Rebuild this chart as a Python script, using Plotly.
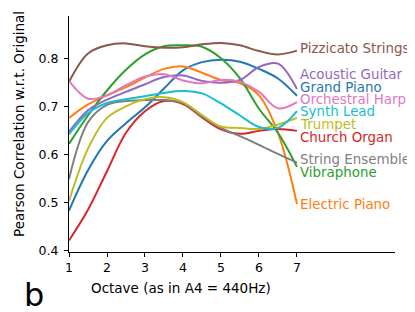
import plotly.graph_objects as go

octaves = [1, 1.5, 2, 2.5, 3, 3.5, 4, 4.5, 5, 5.5, 6, 6.5, 7]

pizzicato_strings = [0.751, 0.810, 0.827, 0.831, 0.825, 0.822, 0.823, 0.829, 0.832, 0.827, 0.815, 0.808, 0.816]
acoustic_guitar = [0.647, 0.692, 0.714, 0.730, 0.746, 0.761, 0.764, 0.753, 0.749, 0.755, 0.782, 0.789, 0.736]
grand_piano = [0.483, 0.567, 0.628, 0.665, 0.698, 0.737, 0.775, 0.792, 0.797, 0.793, 0.778, 0.758, 0.722]
orchestral_harp = [0.753, 0.716, 0.723, 0.744, 0.762, 0.767, 0.754, 0.748, 0.755, 0.751, 0.730, 0.696, 0.709]
synth_lead = [0.642, 0.686, 0.707, 0.715, 0.721, 0.728, 0.732, 0.727, 0.706, 0.681, 0.657, 0.655, 0.690]
trumpet = [0.503, 0.612, 0.676, 0.700, 0.715, 0.719, 0.709, 0.682, 0.658, 0.655, 0.653, 0.662, 0.676]
church_organ = [0.421, 0.485, 0.565, 0.645, 0.690, 0.711, 0.705, 0.677, 0.652, 0.643, 0.649, 0.653, 0.649]
string_ensemble = [0.549, 0.667, 0.703, 0.711, 0.713, 0.713, 0.707, 0.679, 0.655, 0.638, 0.620, 0.601, 0.583]
vibraphone = [0.622, 0.681, 0.733, 0.776, 0.808, 0.825, 0.827, 0.824, 0.800, 0.758, 0.695, 0.645, 0.574]
electric_piano = [0.676, 0.704, 0.723, 0.740, 0.760, 0.778, 0.783, 0.770, 0.755, 0.748, 0.723, 0.645, 0.497]

names = ["Pizzicato Strings", "Acoustic Guitar", "Grand Piano", "Orchestral Harp", "Synth Lead",
         "Trumpet", "Church Organ", "String Ensemble", "Vibraphone", "Electric Piano"]
series = [pizzicato_strings, acoustic_guitar, grand_piano, orchestral_harp, synth_lead,
          trumpet, church_organ, string_ensemble, vibraphone, electric_piano]
colors = ["#8c564b", "#9467bd", "#1f77b4", "#e377c2", "#17becf",
          "#bcbd22", "#d62728", "#7f7f7f", "#2ca02c", "#ff7f0e"]
# label placement (data y) after de-overlapping, as in the reference
label_y = [0.821, 0.7654, 0.739, 0.7148, 0.689, 0.6613, 0.635, 0.590, 0.562, 0.495]

x_ticks = [1, 2, 3, 4, 5, 6, 7]
y_ticks = [0.4, 0.5, 0.6, 0.7, 0.8]

FONT = "DejaVu Sans"

fig = go.Figure()
# draw order: later lines on top
order = [2, 9, 8, 6, 1, 0, 3, 7, 5, 4]
for i in order:
    fig.add_trace(go.Scatter(x=octaves, y=series[i], mode="lines", name=names[i],
                             line=dict(color=colors[i], width=2, shape="spline", smoothing=1.0),
                             showlegend=False, hoverinfo="skip"))

annotations = []
for n, c, ly in zip(names, colors, label_y):
    annotations.append(dict(x=7.055, y=ly, xref="x", yref="y", text=n, showarrow=False,
                            xanchor="left", yanchor="middle", borderpad=0,
                            font=dict(family=FONT, size=13.4, color=c)))
annotations.append(dict(x=0.3436, y=-0.1525, xref="paper", yref="paper",
                        text="Octave (as in A4 = 440Hz)", showarrow=False,
                        xanchor="center", yanchor="middle",
                        font=dict(family=FONT, size=13.5, color="black")))
annotations.append(dict(x=-0.1534, y=0.5424, xref="paper", yref="paper",
                        text="Pearson Correlation w.r.t. Original", showarrow=False,
                        textangle=-90, xanchor="center", yanchor="middle",
                        font=dict(family=FONT, size=13.5, color="black")))
annotations.append(dict(x=-0.1074, y=-0.182, xref="paper", yref="paper",
                        text="b", showarrow=False, xanchor="center", yanchor="middle",
                        borderpad=0,
                        font=dict(family=FONT, size=32, color="black")))

# the page body has an 8px margin, so the figure is 8px smaller and shifted
fig.update_layout(
    width=407, height=304,
    margin=dict(l=61, r=20, t=8, b=60),
    plot_bgcolor="white", paper_bgcolor="white",
    annotations=annotations,
    font=dict(family=FONT, size=12.5, color="black"),
)
fig.update_xaxes(range=[1, 9.58], tickvals=x_ticks, ticktext=[str(t) for t in x_ticks],
                 showgrid=False, zeroline=False, showline=True, linecolor="black", linewidth=1,
                 ticks="outside", ticklen=4, tickwidth=1, tickcolor="black",
                 tickfont=dict(family=FONT, size=12.5, color="black"))
fig.update_yaxes(range=[0.397, 0.888], tickvals=y_ticks, ticktext=[f"{t:.1f}" for t in y_ticks],
                 showgrid=False, zeroline=False, showline=True, linecolor="black", linewidth=1,
                 ticks="outside", ticklen=4, tickwidth=1, tickcolor="black",
                 ticklabelstandoff=3,
                 tickfont=dict(family=FONT, size=12.5, color="black"))

fig.write_html("out.html")
